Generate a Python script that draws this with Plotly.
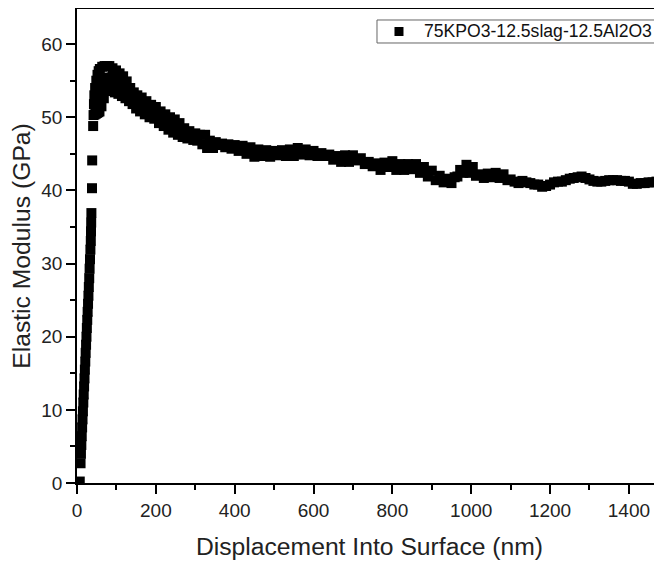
import plotly.graph_objects as go

# Displacement into surface (nm) and elastic modulus (GPa)
displacement_nm = [
    7, 9, 10, 11, 12, 13, 14, 15, 16, 17, 18, 19, 20, 21, 22, 23, 24, 25, 26, 27,
    28, 29, 30, 31, 32, 33, 34, 35, 35.5, 36, 36.5, 38, 38.5,
    41, 42, 43, 44, 45, 46, 47, 48, 49, 50, 51, 52, 53, 54, 55, 56, 57, 58, 60, 62,
    64, 66, 68, 70, 72, 74, 76, 78, 80, 82, 84, 87, 90, 93, 96, 99, 102, 105, 108,
    111, 114, 117, 120, 123, 126, 129, 132, 135, 138, 141, 144, 147, 150, 153, 156,
    160, 164, 168, 172, 176, 180, 184, 188, 192, 196, 200, 204, 208, 212, 216, 220,
    224, 228, 232, 236, 240, 244, 248, 252, 256, 260, 264, 268, 272, 276, 280, 285,
    290, 295, 300, 305, 312, 318, 325,
    330, 337, 345, 352, 360, 368, 376, 384, 392, 400, 410, 420, 430, 440, 450, 460,
    470, 480, 490, 500, 510, 520, 530, 540, 550, 560, 570, 580, 590, 600, 610, 620,
    630, 640, 650, 660, 670, 680, 690, 700, 710, 720, 730, 740, 750, 760, 770, 780,
    790, 800, 810, 820, 830, 840, 850, 860, 870, 880, 890, 900, 910, 920, 930, 940,
    950, 958, 965, 972, 980, 988, 996, 1004, 1012, 1022, 1032, 1042, 1052, 1062,
    1072, 1082, 1092, 1100, 1110, 1120, 1130, 1140, 1150, 1160, 1170, 1180, 1190,
    1200, 1210, 1220, 1230, 1240, 1250, 1260, 1270, 1280, 1290, 1300, 1310, 1320,
    1330, 1340, 1350, 1360, 1370, 1380, 1390, 1400, 1410, 1420, 1430, 1440, 1450,
    1460, 1470, 1480, 1490,
]
modulus_gpa = [
    0.2, 2.7, 4.0, 5.2, 6.4, 7.6, 8.7, 9.8, 11.0, 12.1, 13.2, 14.3, 15.5, 16.6, 17.8,
    18.9, 20.0, 21.2, 22.3, 23.4, 24.5, 25.6, 26.8, 28.0, 29.3, 30.6, 31.9, 33.1,
    34.4, 35.6, 36.9, 40.3, 44.1,
    48.8, 50.3, 51.8, 53.0, 50.4, 54.0, 52.0, 50.5, 55.0, 52.8, 50.6, 55.8, 53.2,
    50.7, 56.3, 53.5, 50.8, 56.6, 53.8, 51.5, 56.9, 54.6, 52.6, 57.0, 55.2, 53.6,
    57.0, 55.4, 54.0, 57.0, 55.4, 53.6, 56.7, 55.1, 53.4, 56.4, 54.8, 53.2, 56.0,
    54.4, 52.9, 55.6, 54.0, 52.6, 54.9, 53.5, 52.2, 54.0, 53.0, 51.8, 53.4, 52.3,
    51.2, 53.0, 51.9, 50.8, 52.7, 51.6, 50.4, 52.2, 51.1, 50.0, 51.7, 50.8, 49.8,
    51.4, 50.3, 49.2, 50.8, 49.8, 48.8, 50.4, 49.3, 48.3, 50.0, 48.9, 47.9, 49.7,
    48.6, 47.6, 49.2, 48.2, 47.3, 48.5, 47.8, 47.1, 48.1, 47.3, 46.9, 47.8, 46.8,
    47.6, 46.3, 47.6,
    45.8, 46.8, 45.8, 46.6, 46.2, 46.4, 45.9, 46.3, 45.7, 46.2,
    45.4, 46.1, 45.0, 45.9, 44.6, 45.6, 44.7, 45.5, 44.6, 45.4, 44.8, 45.5, 44.7,
    45.6, 44.7, 45.8, 44.9, 45.6, 44.8, 45.4, 44.7, 45.1, 44.7, 44.9, 44.2, 44.7,
    43.9, 44.8, 43.9, 44.8, 44.1, 44.4, 43.6, 43.9, 43.3, 43.7, 42.8, 43.8, 43.2,
    44.0, 42.8, 43.6, 42.8, 43.6, 42.9, 43.6, 42.4, 43.2, 41.9, 42.7, 41.4, 42.0,
    41.1, 41.6, 41.0, 41.8, 41.9, 42.8, 42.4, 43.5, 42.4, 43.2, 42.0, 42.2, 41.7,
    42.3, 41.8, 42.4, 41.7, 42.2, 41.4, 41.5, 41.2, 41.0, 41.3, 41.1, 41.0, 40.8,
    40.8, 40.5, 40.6, 40.8, 41.1, 41.2, 41.2, 41.4, 41.6, 41.7, 41.8, 41.9, 41.7,
    41.5, 41.3, 41.2, 41.2, 41.3, 41.4, 41.4, 41.4, 41.3, 41.3, 41.2, 40.9, 40.9,
    41.0, 41.0, 41.1, 41.1, 41.2, 41.4, 41.4,
]
series_name = "75KPO3-12.5slag-12.5Al2O3"
x_title = "Displacement Into Surface (nm)"
y_title = "Elastic Modulus (GPa)"
x_ticks = [0, 200, 400, 600, 800, 1000, 1200, 1400]
y_ticks = [0, 10, 20, 30, 40, 50, 60]

FONT = "Liberation Sans, Arial, sans-serif"
MARKER_SIZE = 10

fig = go.Figure()
fig.add_trace(go.Scatter(
    x=displacement_nm, y=modulus_gpa, mode="markers", name=series_name,
    marker=dict(symbol="square", size=MARKER_SIZE, color="black", line=dict(width=0)),
    showlegend=False,
))

axis_common = dict(
    showline=True, linecolor="black", linewidth=1.5,
    ticks="outside", ticklen=9, tickwidth=1.5, tickcolor="black",
    showgrid=False, zeroline=False, automargin=False,
    tickfont=dict(family=FONT, size=19, color="#222"),
)

# page has an 8px body margin: figure is 8px smaller and offset accordingly
fig.update_layout(
    width=654, height=554,
    margin=dict(l=69, r=0, t=1, b=79),
    paper_bgcolor="white", plot_bgcolor="white",
    font=dict(family=FONT, color="#222"),
    xaxis=dict(
        range=[0, 1484], tickvals=x_ticks, mirror=True,
        minor=dict(dtick=100, tick0=0, ticks="outside", ticklen=5, tickwidth=1.5, tickcolor="black"),
        title=dict(text=x_title, font=dict(family=FONT, size=24.7, color="#222"), standoff=18),
        **axis_common,
    ),
    yaxis=dict(
        range=[0, 64.8], tickvals=y_ticks,
        minor=dict(dtick=5, tick0=0, ticks="outside", ticklen=5, tickwidth=1.5, tickcolor="black"),
        title=dict(text=y_title, font=dict(family=FONT, size=24.7, color="#222"), standoff=6),
        **axis_common,
    ),
    showlegend=False,
)

# legend box drawn in paper coordinates
fig.add_shape(type="rect", xref="paper", yref="paper",
              x0=0.5128, x1=0.9915, y0=0.9283, y1=0.9768,
              line=dict(color="#666", width=1), fillcolor="white", layer="above")
fig.add_shape(type="rect", xref="paper", yref="paper",
              x0=0.5427, x1=0.5581, y0=0.9430, y1=0.9620,
              line=dict(width=0), fillcolor="black", layer="above")
fig.add_annotation(text=series_name, xref="paper", yref="paper",
                   x=0.5897, y=0.9540, xanchor="left", yanchor="middle",
                   showarrow=False, font=dict(family=FONT, size=17.6, color="#111"))

fig.write_html("out.html")
